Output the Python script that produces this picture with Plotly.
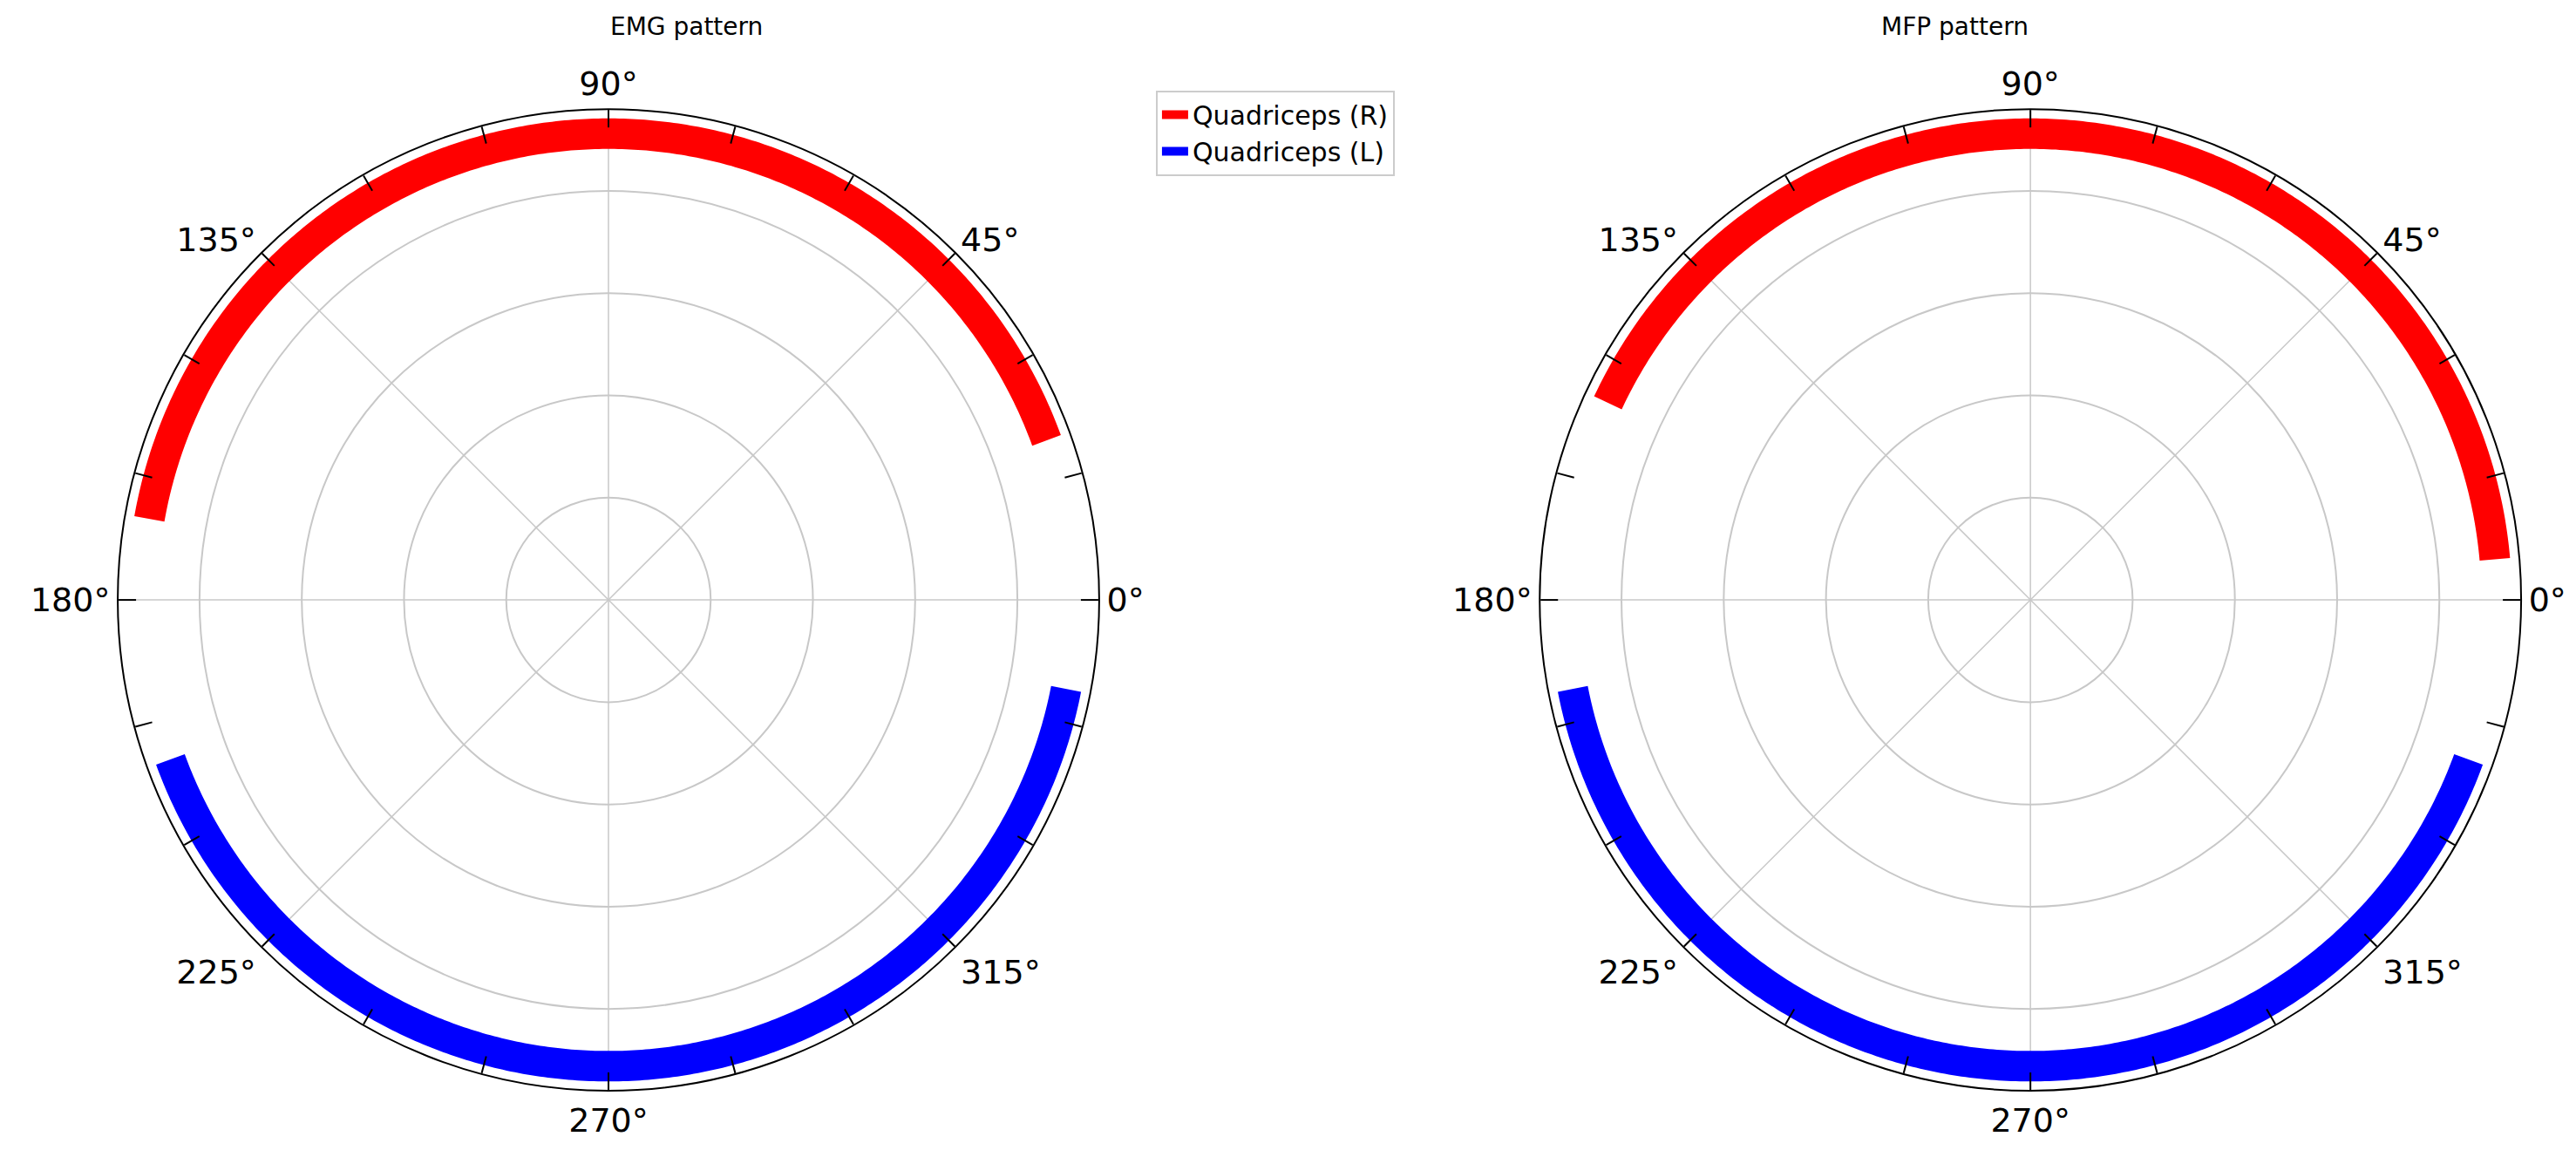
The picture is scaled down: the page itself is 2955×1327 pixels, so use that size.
import numpy as np
import plotly.graph_objects as go

titles = ["EMG pattern", "MFP pattern"]
series_names = ["Quadriceps (R)", "Quadriceps (L)"]
colors = ["#ff0000", "#0000ff"]
# [start, end] angle in degrees (counter-clockwise) for each series per panel
emg_arcs = [[20, 170], [200, 349]]
mfp_arcs = [[5, 155], [191, 340]]
arc_r = 1.14
tick_vals = list(range(0, 360, 15))
tick_text = [f"{v}°" if v % 45 == 0 else "" for v in tick_vals]

fig = go.Figure()
panels = [emg_arcs, mfp_arcs]
for pi, arcs in enumerate(panels):
    pid = "polar" if pi == 0 else "polar2"
    for d in range(0, 180, 45):
        fig.add_trace(go.Scatterpolar(r=[1.2, 0, 1.2], theta=[d, 0, d + 180], mode="lines",
                                      line=dict(color="#c8c8c8", width=1.5), showlegend=False,
                                      hoverinfo="skip", subplot=pid))
    for si, (a0, a1) in enumerate(arcs):
        th = np.linspace(a0, a1, 300)
        fig.add_trace(go.Scatterpolar(r=np.full(th.size, arc_r), theta=th, mode="lines",
                                      line=dict(color=colors[si], width=35),
                                      name=series_names[si], showlegend=(pi == 0), subplot=pid))

polar_common = dict(
    bgcolor="white",
    radialaxis=dict(range=[0, 1.2], tickvals=[0.25, 0.5, 0.75, 1.0], showticklabels=False,
                    ticks="", showline=False, gridcolor="#c8c8c8", gridwidth=1.5),
    angularaxis=dict(rotation=0, direction="counterclockwise", tickvals=tick_vals, ticktext=tick_text,
                     ticks="inside", ticklen=20, tickwidth=2, tickcolor="black", showgrid=False,
                     linecolor="black", linewidth=2,
                     tickfont=dict(size=38, color="black", family="DejaVu Sans")),
)
fig.update_layout(
    width=2955, height=1327, paper_bgcolor="white", margin=dict(l=0, r=0, t=0, b=0),
    polar=dict(domain=dict(x=[0.043, 0.424], y=[0.063, 0.912]), **polar_common),
    polar2=dict(domain=dict(x=[0.595, 0.976], y=[0.063, 0.912]), **polar_common),
    legend=dict(x=0.446, y=0.928, xanchor="left", yanchor="top", bordercolor="#cccccc", borderwidth=2,
                font=dict(size=30, family="DejaVu Sans", color="black"), bgcolor="white"),
    annotations=[
        dict(text=titles[0], x=0.2335, y=0.997, xref="paper", yref="paper", showarrow=False,
             yanchor="top", font=dict(size=28, family="DejaVu Sans", color="black")),
        dict(text=titles[1], x=0.7855, y=0.997, xref="paper", yref="paper", showarrow=False,
             yanchor="top", font=dict(size=28, family="DejaVu Sans", color="black")),
    ],
)
fig.write_html("out.html")
